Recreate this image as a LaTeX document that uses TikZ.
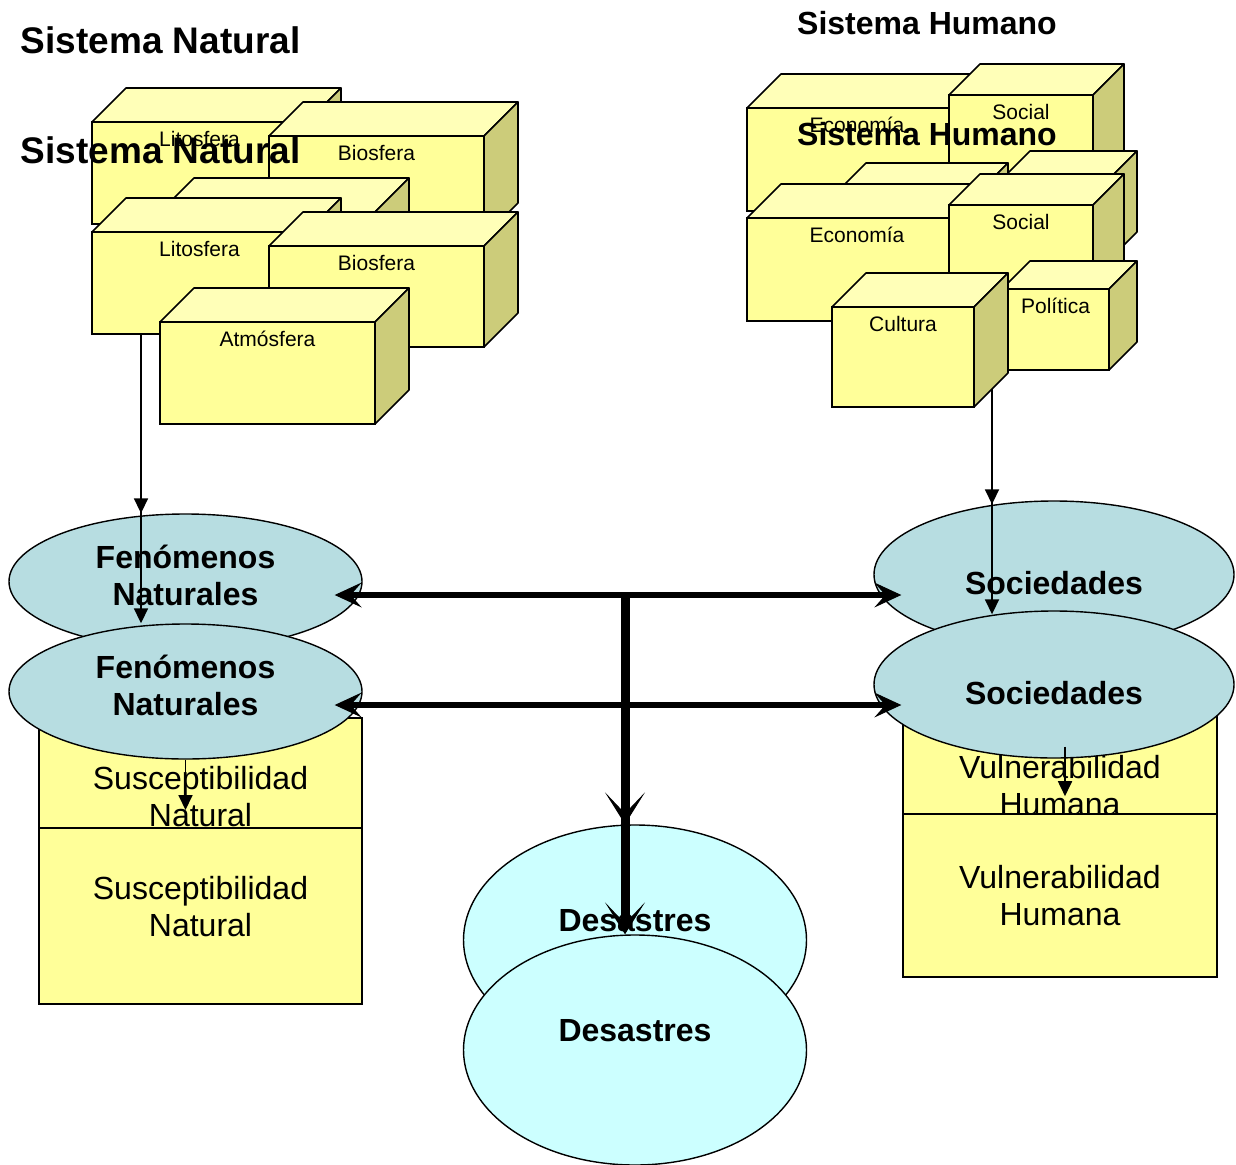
\documentclass[tikz,border=0pt]{standalone}
\usepackage{fontspec}
\setmainfont{Liberation Sans}
\usetikzlibrary{arrows.meta,shapes.geometric}

\definecolor{amarillo}{HTML}{FFFF99}
\definecolor{amarilloclaro}{HTML}{FFFFB8}
\definecolor{olivo}{HTML}{CCCC7A}
\definecolor{celeste}{HTML}{B7DDE1}
\definecolor{cian}{HTML}{CCFFFF}

\tikzset{
  frente/.style={draw, line width=1.6pt, fill=amarillo, inner sep=0pt, outer sep=0pt, anchor=north west},
  tapa/.style={draw, line width=1.6pt, fill=amarilloclaro, line join=round},
  lado/.style={draw, line width=1.6pt, fill=olivo, line join=round},
  rotulo/.style={anchor=north, inner sep=0pt, yshift=-9.5pt, text height=15pt, text depth=0pt, font=\fontsize{21}{25}\selectfont},
  titulo/.style={anchor=base west, inner sep=0pt, font=\bfseries\fontsize{#1}{#1}\selectfont},
  elipse/.style={ellipse, draw, line width=1.4pt, inner sep=0pt, align=center, font=\bfseries\fontsize{32}{37}\selectfont},
  caja/.style={draw, line width=1.6pt, fill=amarillo, inner sep=0pt, align=center, font=\fontsize{32}{37}\selectfont},
  flecha/.style={line width=1.8pt, -{Triangle[length=15pt,width=14pt]}},
  puntah/.tip={Stealth[length=27pt,width=25pt,inset=11pt,line width=1pt]},
  puntav/.tip={Stealth[length=32pt,width=40pt,inset=21pt,line width=1pt]}
}

% cubo: nombre, esquina, ancho, alto, fondo, rotulo
\newcommand{\cubo}[6]{%
  \node[frente, minimum width=#3pt, minimum height=#4pt, label={[rotulo]north:#6}] (#1) at #2 {};
  \draw[tapa] (#1.north west) -- ++(#5,-#5) -- ++(#3,0) -- (#1.north east) -- cycle;
  \draw[lado] (#1.north east) -- ++(#5,-#5) -- ++(0,#4) -- (#1.south east) -- cycle;
}

\begin{document}
\begin{tikzpicture}[x=1pt, y=-1pt]
\useasboundingbox (0,0) rectangle (1236,1164);

\foreach \dy/\copia in {0/a,110/b}{
\begin{scope}[yshift=-\dy pt]
  %TITULOS
  \node[titulo=37] (natural\copia) at (20.5,53) {Sistema Natural};
  \node[titulo=32] (humano\copia) at (797,35) {Sistema Humano};

  %SISTEMA NATURAL
  \cubo{lit\copia}{(92,122)}{215}{102}{34}{Litosfera}
  \cubo{bio\copia}{(269,136)}{215}{101}{34}{Biosfera}
  \cubo{atm\copia}{(160,212)}{215}{102}{34}{Atmósfera}

  %SISTEMA HUMANO
  \cubo{eco\copia}{(747,108)}{220}{103}{34}{Economía}
  \cubo{social\copia}{(949,95)}{144}{93}{31}{Social}
  \cubo{pol\copia}{(1002,179)}{107}{81}{28}{Política}
  \cubo{cul\copia}{(832,197)}{142}{100}{34}{Cultura}

  %ELIPSES
  \node[elipse, fill=celeste, minimum width=353pt, minimum height=135pt] (fen\copia) at (185.5,581.5) {Fenómenos\\Naturales\rule[-12pt]{0pt}{12pt}};
  \node[elipse, fill=celeste, minimum width=360pt, minimum height=147pt, text height=40pt, text depth=0pt] (sociedad\copia) at (1054,574.5) {Sociedades};
  \node[elipse, fill=cian, minimum width=343pt, minimum height=230pt, text height=24pt, text depth=42pt] (des\copia) at (635,940) {Desastres};

  %SUSCEPTIBILIDAD Y VULNERABILIDAD
  \node[caja, minimum width=323pt, minimum height=176pt] (sus\copia) at (200.5,805.8) {Susceptibilidad\\Natural\rule[-18pt]{0pt}{18pt}};
  \node[caja, minimum width=314pt, minimum height=163pt] (vul\copia) at (1060,785.5) {Vulnerabilidad\\Humana};

  %FLECHAS FINAS
  \coordinate (litsal\copia) at ([xshift=-58.5pt]lit\copia.south);
  \draw[flecha] (litsal\copia) -- (litsal\copia |- fen\copia.north);
  \coordinate (culsal\copia) at ([xshift=18pt,yshift=18pt]cul\copia.south east);
  \draw[flecha, shorten >=-4pt] (culsal\copia) -- (culsal\copia |- sociedad\copia.north);
  \draw[flecha, shorten >=17pt] (fen\copia.south) -- (fen\copia.south |- sus\copia.north);
  \coordinate (socsal\copia) at ([xshift=11pt,yshift=12pt]sociedad\copia.south);
  \draw[flecha, shorten >=17pt] (socsal\copia) -- (socsal\copia |- vul\copia.north);

  %FLECHAS GRUESAS
  \coordinate (cruce\copia) at (625,595);
  \draw[line width=6pt, {puntah}-{puntah}, shorten <=-28pt, shorten >=-28pt] (fen\copia.east |- cruce\copia) -- (sociedad\copia.west |- cruce\copia);
  \draw[line width=9pt, -{puntav}] (cruce\copia) -- (cruce\copia |- des\copia.north);
\end{scope}
}
\end{tikzpicture}
\end{document}
